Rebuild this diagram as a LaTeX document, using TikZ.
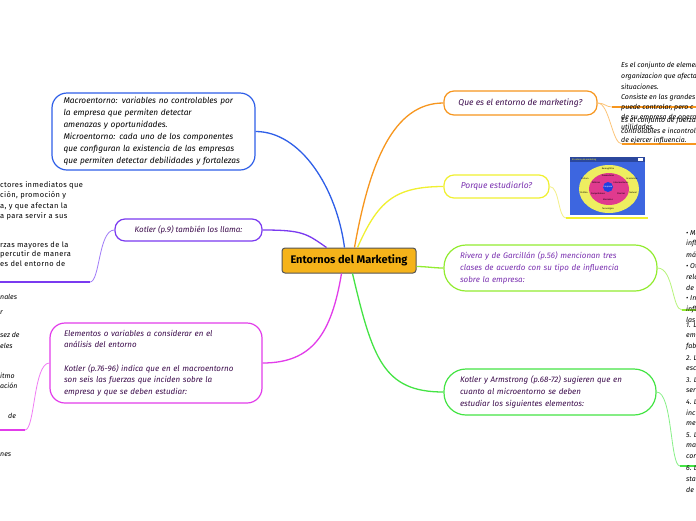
\documentclass[tikz,border=0pt]{standalone}
\usepackage{fontspec}
\setmainfont{Fira Sans}
\usetikzlibrary{calc}
\definecolor{cblue}{HTML}{2F5FE8}
\definecolor{cviolet}{HTML}{7A3AF0}
\definecolor{cvioletl}{HTML}{A07CF8}
\definecolor{cmag}{HTML}{E23CEA}
\definecolor{cmagl}{HTML}{F07CF4}
\definecolor{corg}{HTML}{F7961E}
\definecolor{corgl}{HTML}{FCC478}
\definecolor{cyel}{HTML}{F0F030}
\definecolor{cyell}{HTML}{F4F088}
\definecolor{cgrA}{HTML}{92EC30}
\definecolor{cgrAl}{HTML}{B8F47C}
\definecolor{cgrB}{HTML}{44E444}
\definecolor{cgrBl}{HTML}{88F088}
\definecolor{ccenter}{HTML}{F5B31A}
\definecolor{cgray}{HTML}{555555}
\definecolor{tdark}{HTML}{3C0C4C}
\definecolor{tpurp}{HTML}{7A30B0}
\definecolor{imgblue}{HTML}{3D66E0}
\definecolor{imgyel}{HTML}{EEEE60}
\definecolor{imgpink}{HTML}{E03A8E}
\definecolor{imgcore}{HTML}{2040E0}
\begin{document}
\begin{tikzpicture}[x=1pt,y=-1pt,
  box/.style={draw, line width=1.2pt, fill=white, rounded corners=12pt, inner sep=0pt,
    align=left, font=\itshape\fontsize{8}{11.6}\selectfont},
  pill/.style={box, rounded corners=22pt},
  mainedge/.style={line width=1.3pt},
  subedge/.style={line width=0.8pt},
  uline/.style={line width=2pt},
  frag/.style={anchor=west, inner sep=0pt, font=\itshape\fontsize{7}{8}\selectfont, text=black},
  lfrag/.style={anchor=west, inner sep=0pt, font=\fontsize{7.5}{8}\selectfont\addfontfeature{LetterSpace=5}, text=black},
  tiny/.style={inner sep=0pt, font=\fontsize{2.2}{2.4}\selectfont}
]
\useasboundingbox (0,0) rectangle (696,520);
\fill[white] (0,0) rectangle (696,520);
\clip (0,0) rectangle (696,520);

% ---------- main nodes ----------
\node[draw=cgray, fill=ccenter, rounded corners=3pt, line width=1pt, minimum width=134pt,
  minimum height=25pt, inner sep=0pt, font=\bfseries\fontsize{11}{12}\selectfont] (c) at (349,260.5) {Entornos del Marketing};

\node[box, draw=cblue, rounded corners=15pt, minimum width=203pt, minimum height=77pt, text width=180pt,
  font=\itshape\fontsize{8.3}{12}\selectfont, text=black] (bl) at (153.5,131.5)
  {Macroentorno: variables no controlables por\\la empresa que permiten detectar\\amenazas y oportunidades.\\Microentorno: cada uno de los componentes\\que configuran la existencia de las empresas\\que permiten detectar debilidades y fortalezas};

\node[box, draw=cviolet, rounded corners=10pt, minimum width=147pt, minimum height=22pt, align=center, text=tdark] (kt) at (188.5,230)
  {Kotler (p.9) también los llama:};

\node[box, draw=cmag, rounded corners=15pt, minimum width=212pt, minimum height=80pt, text width=184pt, text=tdark] (mg) at (156,363)
  {Elementos o variables a considerar en el\\análisis del entorno\\[11.6pt]Kotler (p.76-96) indica que en el macroentorno\\son seis las fuerzas que inciden sobre la\\empresa y que se deben estudiar:};

\node[box, draw=corg, rounded corners=10pt, minimum width=153pt, minimum height=24pt, align=center, text=tdark,
  font=\itshape\fontsize{8.5}{10}\selectfont] (or) at (520.5,103) {Que es el entorno de marketing?};

\node[box, draw=cyel, rounded corners=10pt, minimum width=105pt, minimum height=23pt, align=center, text=tpurp,
  font=\itshape\fontsize{8.5}{10}\selectfont] (ye) at (496.5,186.5) {Porque estudiarlo?};

\node[pill, draw=cgrA, minimum width=213pt, minimum height=46pt, text width=181pt, text=tpurp] (g1) at (550.5,268)
  {Rivera y de Garcillán (p.56) mencionan tres\\clases de acuerdo con su tipo de influencia\\sobre la empresa:};

\node[pill, draw=cgrB, minimum width=212pt, minimum height=46pt, text width=180pt, text=tdark] (g2) at (550,392)
  {Kotler y Armstrong (p.68-72) sugieren que en\\cuanto al microentorno se deben\\estudiar los siguientes elementos:};

% ---------- main connectors ----------
\draw[mainedge, draw=cblue] ([xshift=63pt]c.north west) .. controls +(-8,-60) and +(45,0) .. (bl.east);
\draw[mainedge, draw=cviolet] ([xshift=45pt]c.north west) .. controls +(-20,-14) and +(40,0) .. (kt.east);
\draw[mainedge, draw=corg] ([xshift=73pt]c.north west) .. controls +(15,-85) and +(-50,0) .. (or.west);
\draw[mainedge, draw=cyel] ([xshift=76pt]c.north west) .. controls +(20,-45) and +(-50,0) .. (ye.west);
\draw[mainedge, draw=cmag] ([xshift=60pt]c.south west) .. controls +(-10,60) and +(50,0) .. (mg.east);
\draw[mainedge, draw=cgrB] ([xshift=71pt]c.south west) .. controls +(20,85) and +(-60,0) .. (g2.west);
\draw[mainedge, draw=cgrA] ([yshift=-6pt]c.east) .. controls +(10,0) and +(-10,0) .. (g1.west);

% ---------- child connectors ----------
\coordinate (ktA) at (90,282); \coordinate (ktB) at (0,282);
\draw[subedge, draw=cvioletl] (kt.west) .. controls +(-16,0) and +(10,0) .. (ktA);
\draw[uline, draw=cviolet] (ktA) -- (ktB);

\coordinate (mgA) at (25,430); \coordinate (mgB) at (0,430);
\draw[subedge, draw=cmagl] (mg.west) .. controls +(-16,0) and +(10,0) .. (mgA);
\draw[uline, draw=cmag] (mgA) -- (mgB);

\coordinate (orA) at (612,107); \coordinate (orB) at (696,107);
\coordinate (orC) at (622,144); \coordinate (orD) at (696,144);
\draw[subedge, draw=corgl] (or.east) .. controls +(7,0) and +(-6,0) .. (orA);
\draw[subedge, draw=corgl] (or.east) .. controls +(12,0) and +(-10,0) .. (orC);
\draw[uline, draw=corg] (orA) -- (orB);
\draw[uline, draw=corg] (orC) -- (orD);

\coordinate (yeA) at (566,218); \coordinate (yeB) at (648,218);
\draw[subedge, draw=cyell] (ye.east) .. controls +(10,0) and +(-8,0) .. (yeA);
\draw[uline, draw=cyel] (yeA) -- (yeB);

\coordinate (g1A) at (682,310); \coordinate (g1B) at (696,310);
\draw[subedge, draw=cgrAl] (g1.east) .. controls +(16,0) and +(-10,0) .. (g1A);
\draw[uline, draw=cgrA] (g1A) -- (g1B);

\coordinate (g2A) at (680,466); \coordinate (g2B) at (696,466);
\draw[subedge, draw=cgrBl] (g2.east) .. controls +(16,0) and +(-10,0) .. (g2A);
\draw[uline, draw=cgrB] (g2A) -- (g2B);

% ---------- cut-off child texts ----------
\foreach \t/\y [count=\i] in {ctores inmediatos que/185, {ción, promoción y}/195.5, {a, y que afectan la}/206,
   a para servir a sus/216, rzas mayores de la/245, percutir de manera/254.5, es del entorno de/264}
  \node[lfrag] (lt\i) at (0,\y) {\t};

\foreach \t/\y [count=\i] in {nales/297, r/313, sez de/335, eles/346, itmo/376, ación/386, nes/455}
  \node[frag] (lb\i) at (0,\y) {\t};
\node[frag] (lbde) at (8,416) {de};

\foreach \t/\y [count=\i] in {Es el conjunto de elementos/66, organizacion que afecta/76.5, situaciones./87,
   Consiste en las grandes/97.5, {puede controlar, pero c}/108, de su empresa de operar/117.5, utilidades./127}
  \node[frag] (oa\i) at (621,\y) {\t};
\foreach \t/\y [count=\i] in {Es el conjunto de fuerzas/121, controlables e incontrolables/131, de ejercer influencia./141}
  \node[frag] (ob\i) at (621,\y) {\t};

\foreach \t/\y [count=\i] in {• Ma/233, infl/243.9, más/254.8, • Ot/265.7, rela/276.6, de/287.5, • In/298.4, infl/309.3, las/320.2}
  \node[frag] (ga\i) at (686,\y) {\t};
\foreach \t/\y [count=\i] in {1. L/325, emp/336, fab/347, 2. L/358, esc/369, 3. L/380, ser/391, 4. L/402,
   inc/413, me/424, 5. L/435, ma/446, cor/457, 6. L/468, sta/479, de/490}
  \node[frag] (gb\i) at (686,\y) {\t};

% ---------- thumbnail picture ----------
\fill[imgblue] (570,157) rectangle (645,215);
\fill[imgblue!70!black] (570,157) rectangle (645,162);
\node[tiny, anchor=west, text=yellow!85!white] (imgt) at (572,159.5) {El entorno de marketing};
\fill[white] (638,158) rectangle (643,161);
\fill[imgyel] (609,189) ellipse [x radius=30pt, y radius=24pt];
\fill[imgpink] (609,189) ellipse [x radius=20pt, y radius=16pt];
\fill[imgcore] (608,187) circle [radius=5pt];
\node[tiny, text=white] (iE) at (608,187) {Empresa};
\node[tiny] (i1) at (608,168.5) {Demográfico};
\node[tiny] (i2) at (585,179) {Cultura};
\node[tiny] (i3) at (632,179) {Económico};
\node[tiny] (i4) at (584,193) {Político};
\node[tiny] (i5) at (633,193) {Natural};
\node[tiny] (i6) at (608,208.5) {Tecnológico};
\node[tiny] (i7) at (608,176) {Proveedores};
\node[tiny] (i8) at (596,183) {Públicos};
\node[tiny] (i9) at (621,183) {Intermediarios};
\node[tiny] (i10) at (598,194) {Competidores};
\node[tiny] (i11) at (621,194) {Clientes};
\node[tiny] (i12) at (608,200) {Mercados};
\end{tikzpicture}
\end{document}
